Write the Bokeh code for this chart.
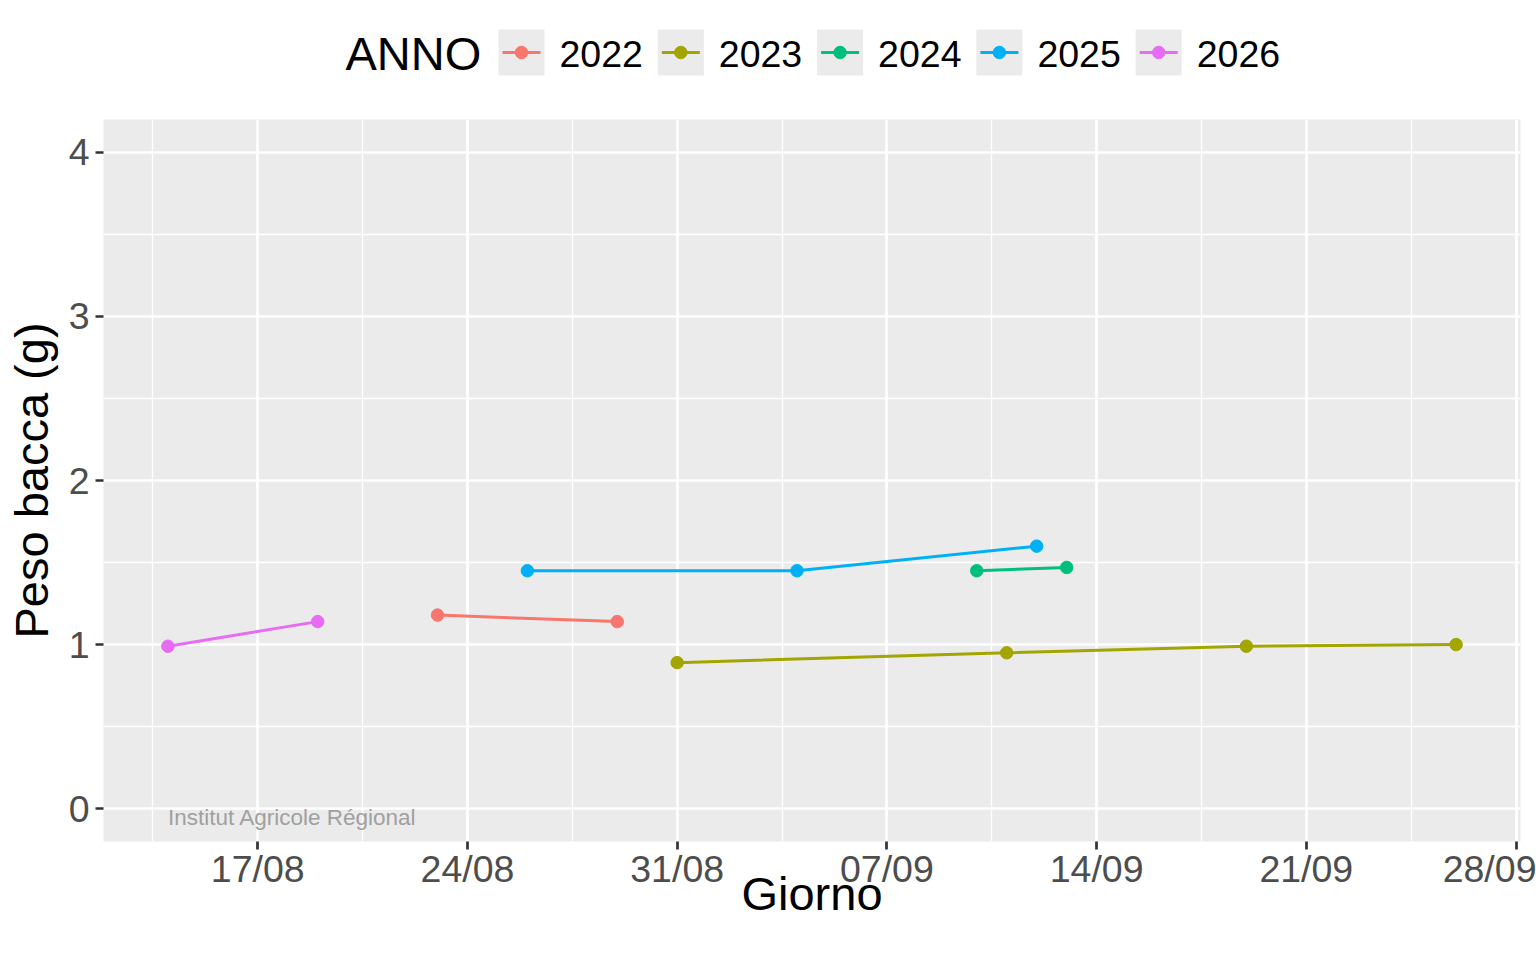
import pandas as pd
from bokeh.plotting import figure
from bokeh.layouts import column
from bokeh.models import Range1d, FixedTicker, DatetimeTickFormatter, Label, ColumnDataSource
from bokeh.core.properties import value
from bokeh.embed import file_html
from bokeh.resources import INLINE

# ---------------- data ----------------
years = ["2022", "2023", "2024", "2025", "2026"]
colors = ["#F8766D", "#A3A500", "#00BF7D", "#00B0F6", "#E76BF3"]

days_2022 = ["23/08", "29/08"]
peso_2022 = [1.18, 1.14]
days_2023 = ["31/08", "11/09", "19/09", "26/09"]
peso_2023 = [0.89, 0.95, 0.99, 1.00]
days_2024 = ["10/09", "13/09"]
peso_2024 = [1.45, 1.47]
days_2025 = ["26/08", "04/09", "12/09"]
peso_2025 = [1.45, 1.45, 1.60]
days_2026 = ["14/08", "19/08"]
peso_2026 = [0.99, 1.14]

x_tick_labels = ["17/08", "24/08", "31/08", "07/09", "14/09", "21/09", "28/09"]
y_ticks = [0, 1, 2, 3, 4]
y_minor_ticks = [0.5, 1.5, 2.5, 3.5]
y_limits = [0, 4]

legend_title = "ANNO"
x_title = "Giorno"
y_title = "Peso bacca (g)"
watermark = "Institut Agricole Régional"

series_days = [days_2022, days_2023, days_2024, days_2025, days_2026]
series_peso = [peso_2022, peso_2023, peso_2024, peso_2025, peso_2026]

FONT = "Liberation Sans"
DAY_MS = 86400000.0


def to_dt(d):
    return pd.to_datetime(d + "/2000", format="%d/%m/%Y")


def to_ms(d):
    return to_dt(d).value / 1e6


# ---------------- scales ----------------
all_ms = [to_ms(d) for ds in series_days for d in ds]
span = max(all_ms) - min(all_ms)
x_start = min(all_ms) - 0.05 * span
x_end = max(all_ms) + 0.05 * span
y_span = y_limits[1] - y_limits[0]
y_start = y_limits[0] - 0.05 * y_span
y_end = y_limits[1] + 0.05 * y_span

major_x = [to_ms(d) for d in x_tick_labels]
minor_x = [t - 3.5 * DAY_MS for t in major_x]

# layout geometry (screen px)
W = 1536
BORDER_L = 103
BORDER_R = 16
LEG_H = 108
FRAME_L = BORDER_L
FRAME_R = W - BORDER_R

# ---------------- main plot ----------------
p = figure(width=W, height=833, x_axis_type="datetime",
           x_range=Range1d(x_start, x_end), y_range=Range1d(y_start, y_end),
           output_backend="svg", toolbar_location=None,
           min_border_left=BORDER_L, min_border_right=BORDER_R,
           min_border_top=11, min_border_bottom=100,
           background_fill_color="#EBEBEB", border_fill_color="white",
           outline_line_color=None)

p.xaxis.ticker = FixedTicker(ticks=major_x, minor_ticks=minor_x)
fmt = "%d/%m"
p.xaxis.formatter = DatetimeTickFormatter(microseconds=fmt, milliseconds=fmt, seconds=fmt,
                                          minsec=fmt, minutes=fmt, hourmin=fmt, hours=fmt,
                                          days=fmt, months=fmt, years=fmt)
p.yaxis.ticker = FixedTicker(ticks=y_ticks, minor_ticks=y_minor_ticks)

for g in (p.xgrid, p.ygrid):
    g.grid_line_color = "white"
    g.grid_line_width = 2.7
    g.minor_grid_line_color = "white"
    g.minor_grid_line_width = 1.35

for ax in (p.xaxis, p.yaxis):
    ax.axis_line_color = None
    ax.major_tick_line_color = "#333333"
    ax.major_tick_line_width = 2.7
    ax.major_tick_out = 8
    ax.major_tick_in = 0
    ax.minor_tick_line_color = None
    ax.major_label_text_color = "#4D4D4D"
    ax.major_label_text_font = FONT
    ax.major_label_text_font_size = "37.5px"
    ax.axis_label_text_font = FONT
    ax.axis_label_text_font_size = "47px"
    ax.axis_label_text_font_style = "normal"
    ax.axis_label_text_color = "black"

p.xaxis.axis_label = x_title
p.yaxis.axis_label = y_title
p.xaxis.major_label_standoff = -2
p.xaxis.axis_label_standoff = -26
p.yaxis.major_label_standoff = 6
p.yaxis.axis_label_standoff = 8

for yr, col, ds, ps in zip(years, colors, series_days, series_peso):
    src = ColumnDataSource(dict(x=[to_dt(d) for d in ds], y=ps))
    p.line("x", "y", source=src, line_color=col, line_width=3)
    p.scatter("x", "y", source=src, fill_color=col, line_color=col, size=12.5)

p.add_layout(Label(x=min(all_ms), y=y_limits[0], y_offset=4, text=watermark,
                   text_font=FONT, text_font_size="22.5px", text_color="#A0A0A0",
                   text_align="left", text_baseline="top"))

# ---------------- legend (top strip) ----------------
leg = figure(width=W, height=LEG_H, x_range=Range1d(FRAME_L, FRAME_R),
             y_range=Range1d(LEG_H, 0),
             output_backend="svg", toolbar_location=None, min_border=0,
             min_border_left=BORDER_L, min_border_right=BORDER_R,
             outline_line_color=None, background_fill_color="white",
             border_fill_color="white")
leg.axis.visible = False
leg.grid.visible = False

key0 = 498.0
step = 159.3
key_w = 46.0
cy = 52.0
key_left = [key0 + i * step for i in range(len(years))]
key_src = ColumnDataSource(dict(
    left=key_left, right=[k + key_w for k in key_left],
    cx=[k + key_w / 2 for k in key_left],
    x0=[k + 4 for k in key_left], x1=[k + key_w - 4 for k in key_left],
    tx=[k + 61 for k in key_left], ty=[cy + 1] * len(years),
    top=[cy - key_w / 2] * len(years), bottom=[cy + key_w / 2] * len(years),
    cyy=[cy] * len(years), color=colors, label=years))
leg.quad(left="left", right="right", top="top", bottom="bottom", source=key_src,
         fill_color="#EBEBEB", line_color=None)
leg.segment(x0="x0", y0="cyy", x1="x1", y1="cyy", source=key_src,
            line_color="color", line_width=3)
leg.scatter(x="cx", y="cyy", source=key_src, fill_color="color", line_color="color", size=12.5)
leg.text(x="tx", y="ty", text="label", source=key_src, text_font=value(FONT),
         text_font_size="37.5px", text_color="black", text_align="left",
         text_baseline="middle")
leg.text(x=[345], y=[cy + 1], text=[legend_title], text_font=value(FONT),
         text_font_size="47px", text_color="black", text_align="left",
         text_baseline="middle")

layout = column(leg, p, spacing=0)
open("out.html", "w").write(file_html(layout, INLINE))
